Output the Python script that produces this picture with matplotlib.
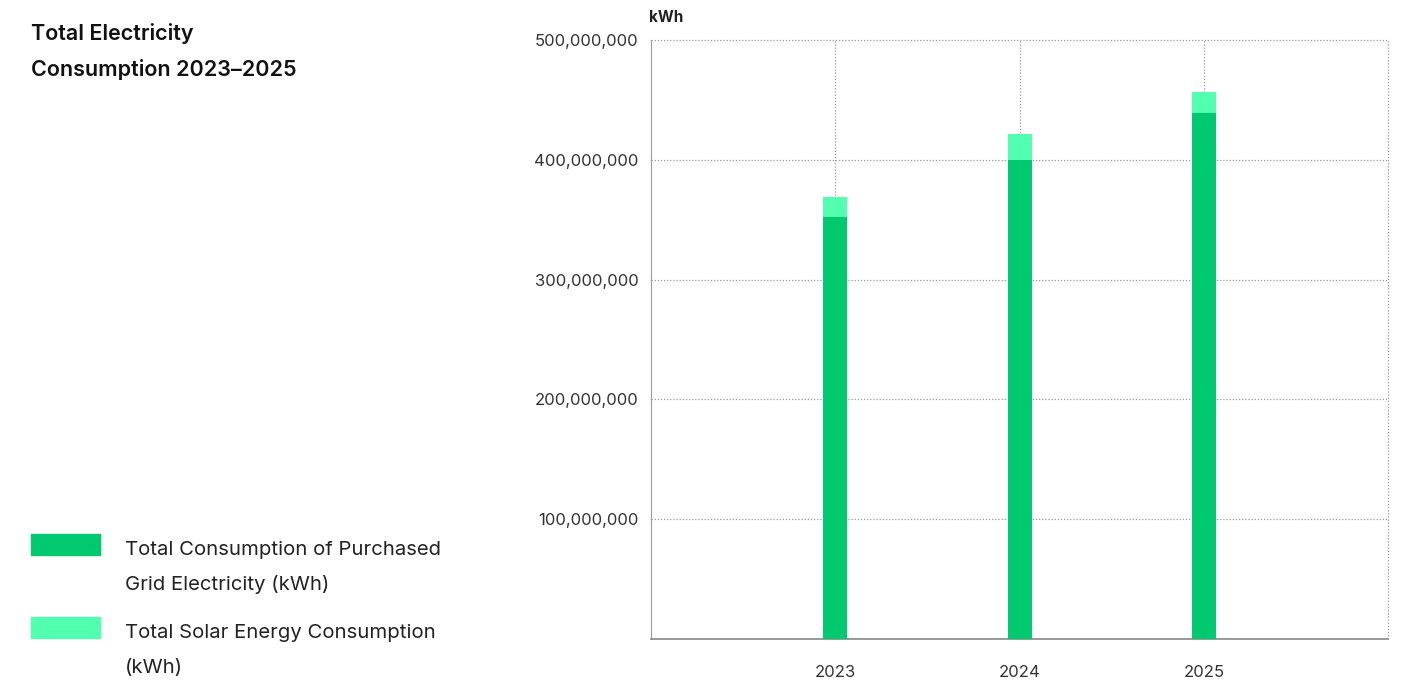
import matplotlib.pyplot as plt
from matplotlib.patches import Rectangle
from matplotlib.ticker import FuncFormatter

plt.rcParams['font.family'] = ['Inter', 'DejaVu Sans']

years = ['2023', '2024', '2025']
grid_kwh = [352500000, 400000000, 439000000]
solar_kwh = [16700000, 21700000, 17700000]

grid_color = '#00c96f'
solar_color = '#52ffb0'

fig = plt.figure(figsize=(14.04, 6.81), dpi=100)
ax = fig.add_axes([0.4637, 0.0617, 0.525, 0.8796])

x = [1, 2, 3]
ax.bar(x, grid_kwh, width=0.13, color=grid_color, zorder=3)
ax.bar(x, solar_kwh, width=0.13, bottom=grid_kwh, color=solar_color, zorder=3)

ax.set_xlim(0, 4)
ax.set_ylim(0, 500000000)
ax.set_yticks([100000000, 200000000, 300000000, 400000000, 500000000])
ax.yaxis.set_major_formatter(FuncFormatter(lambda v, p: f'{int(v):,}'))
ax.set_xticks(x)
ax.set_xticklabels(years)
ax.tick_params(axis='both', length=0, labelsize=12, colors='#333333')
ax.tick_params(axis='x', pad=19)
ax.tick_params(axis='y', pad=9)

# dotted grid, vertical lines through each year plus the right edge
for yv in [100000000, 200000000, 300000000, 400000000, 500000000]:
    ax.axhline(yv, color='#999999', lw=0.9, ls=(0, (1, 1.5)), zorder=1, clip_on=False)
for xv in [1, 2, 3, 4]:
    ax.axvline(xv, color='#999999', lw=0.9, ls=(0, (1, 1.5)), zorder=1, clip_on=False)

for s in ['top', 'right']:
    ax.spines[s].set_visible(False)
ax.spines['left'].set_color('#999999')
ax.spines['bottom'].set_color('#888888')
ax.spines['bottom'].set_linewidth(1.2)

fig.text(649 / 1404, 1 - 18 / 681, 'kWh', fontsize=11, fontweight='bold',
         color='#222222', va='center', ha='left')

fig.text(31 / 1404, 1 - 34 / 681, 'Total Electricity', fontsize=15.5,
         fontweight='semibold', color='#111111', va='center')
fig.text(31 / 1404, 1 - 70 / 681, 'Consumption 2023\u20132025', fontsize=15.5,
         fontweight='semibold', color='#111111', va='center')

# legend drawn by hand on the left side
legend_items = [
    (grid_color, ['Total Consumption of Purchased', 'Grid Electricity (kWh)'], 545),
    (solar_color, ['Total Solar Energy Consumption', '(kWh)'], 628),
]
for color, lines, ytop in legend_items:
    fig.patches.append(Rectangle((31 / 1404, 1 - (ytop + 10) / 681), 69 / 1404, 21 / 681,
                                 transform=fig.transFigure, color=color))
    for i, line in enumerate(lines):
        fig.text(125 / 1404, 1 - (ytop + 5 + i * 35) / 681, line, fontsize=14.6,
                 color='#222222', va='center')

fig.savefig('out.png', dpi=100)
